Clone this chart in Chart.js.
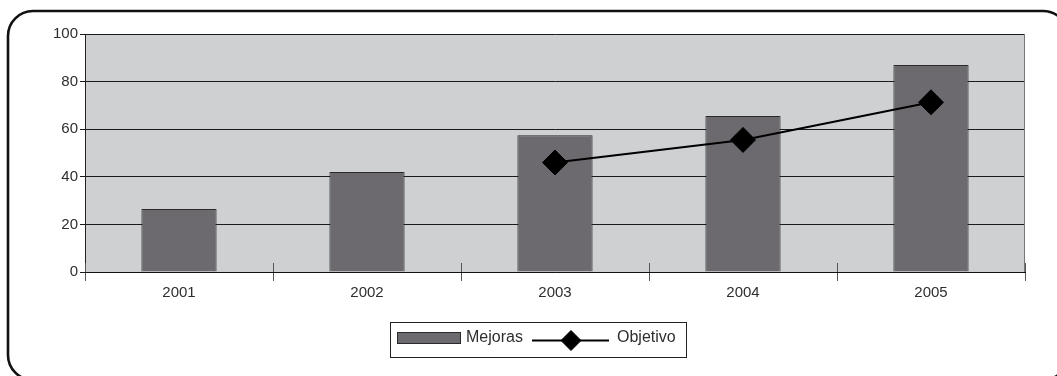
<!DOCTYPE html>
<html>
<head>
<meta charset="utf-8">
<script src="https://cdn.jsdelivr.net/npm/chart.js@4.4.0/dist/chart.umd.min.js"></script>
<style>
  html, body { margin: 0; padding: 0; background: #ffffff; }
  #wrap { width: 1057px; height: 376px; position: relative; }
</style>
</head>
<body>
<div id="wrap"><canvas id="chart" width="1057" height="376"></canvas></div>
<script>
// Categories and series
const years = ['2001', '2002', '2003', '2004', '2005'];
const mejoras = [26.5, 42, 57.5, 65.5, 87];
const objetivo = [null, null, 46, 55.5, 71.3];
const yMin = 0, yMax = 100, yStep = 20;

const FONT = '"Liberation Sans", Arial, Helvetica, sans-serif';
const TEXT = '#2e2e2e';
const BAR_FILL = '#6c6a6f';
const PLOT_BG = '#cfd0d2';

// Rounded outer frame and grey plotting area
const backdrop = {
  id: 'backdrop',
  beforeDraw(chart) {
    const { ctx, chartArea: a } = chart;
    ctx.save();
    ctx.fillStyle = '#ffffff';
    ctx.fillRect(0, 0, chart.width, chart.height);
    ctx.strokeStyle = '#111111';
    ctx.lineWidth = 2.6;
    ctx.beginPath();
    ctx.roundRect(8, 11, 1060, 369, 25);
    ctx.stroke();
    ctx.fillStyle = PLOT_BG;
    ctx.fillRect(a.left, a.top, a.right - a.left, a.bottom - a.top);
    ctx.restore();
  },
  beforeDatasetsDraw(chart) {
    // category dividers crossing the baseline, and the plot's right edge
    const { ctx, chartArea: a, scales: { x } } = chart;
    ctx.save();
    ctx.strokeStyle = '#555555';
    ctx.lineWidth = 1;
    const half = (x.getPixelForValue(1) - x.getPixelForValue(0)) / 2;
    ctx.beginPath();
    for (let i = 0; i <= years.length; i++) {
      const px = Math.round(x.getPixelForValue(i) - half) + 0.5;
      ctx.moveTo(px, a.bottom - 9);
      ctx.lineTo(px, a.bottom);
    }
    ctx.stroke();
    ctx.strokeStyle = '#777777';
    ctx.beginPath();
    ctx.moveTo(Math.round(a.right) - 0.5, a.top);
    ctx.lineTo(Math.round(a.right) - 0.5, a.bottom);
    ctx.stroke();
    ctx.restore();
  },
  afterDraw(chart) {
    // boxed legend under the axis
    const { ctx } = chart;
    const bars = chart.data.datasets.find(d => d.type === 'bar');
    const line = chart.data.datasets.find(d => d.type === 'line');
    ctx.save();
    ctx.strokeStyle = '#222222';
    ctx.lineWidth = 1;
    ctx.strokeRect(390.5, 322.5, 296, 35);

    ctx.fillStyle = bars.backgroundColor;
    ctx.fillRect(397, 332, 64, 12);
    ctx.strokeStyle = bars.borderColor;
    ctx.strokeRect(397.5, 332.5, 63, 11);

    ctx.font = '16px ' + FONT;
    ctx.fillStyle = TEXT;
    ctx.textBaseline = 'middle';
    ctx.textAlign = 'left';
    ctx.fillText(bars.label, 466, 338);

    ctx.strokeStyle = line.borderColor;
    ctx.lineWidth = 2;
    ctx.beginPath();
    ctx.moveTo(532, 340.5);
    ctx.lineTo(609, 340.5);
    ctx.stroke();
    ctx.fillStyle = line.pointBackgroundColor;
    ctx.lineWidth = 1;
    Chart.helpers.drawPoint(ctx, { pointStyle: 'rectRot', radius: 10, rotation: 0, borderWidth: 1 }, 571, 340.5);
    ctx.fillStyle = TEXT;
    ctx.fillText(line.label, 617, 338);
    ctx.restore();
  }
};

new Chart(document.getElementById('chart'), {
  data: {
    labels: years,
    datasets: [
      {
        type: 'line',
        label: 'Objetivo',
        data: objetivo,
        borderColor: '#000000',
        borderWidth: 2,
        pointStyle: 'rectRot',
        pointRadius: 12.5,
        pointBackgroundColor: '#000000',
        pointBorderColor: '#000000',
        pointBorderWidth: 1,
        spanGaps: false,
        order: 0
      },
      {
        type: 'bar',
        label: 'Mejoras',
        data: mejoras,
        backgroundColor: BAR_FILL,
        borderColor: '#2a2a2a',
        borderWidth: 1,
        categoryPercentage: 1,
        barPercentage: 0.4,
        order: 1
      }
    ]
  },
  options: {
    responsive: false,
    animation: false,
    layout: { padding: { top: 34, right: 32, left: 0, bottom: 0 } },
    plugins: { legend: { display: false }, tooltip: { enabled: false } },
    scales: {
      x: {
        offset: true,
        grid: { display: true, drawOnChartArea: false, offset: true, tickLength: 9, color: '#555555' },
        border: { display: true, color: '#111111', width: 1 },
        ticks: { color: TEXT, font: { family: FONT, size: 15 }, padding: 3 },
        afterFit(scale) { scale.height = 104; }
      },
      y: {
        min: yMin,
        max: yMax,
        ticks: { stepSize: yStep, color: TEXT, font: { family: FONT, size: 15 }, padding: 2 },
        grid: { color: '#1a1a1a', lineWidth: 1, tickLength: 5 },
        border: { display: true, color: '#222222', width: 1 },
        afterFit(scale) { scale.width = 85; }
      }
    }
  },
  plugins: [backdrop]
});
</script>
</body>
</html>
